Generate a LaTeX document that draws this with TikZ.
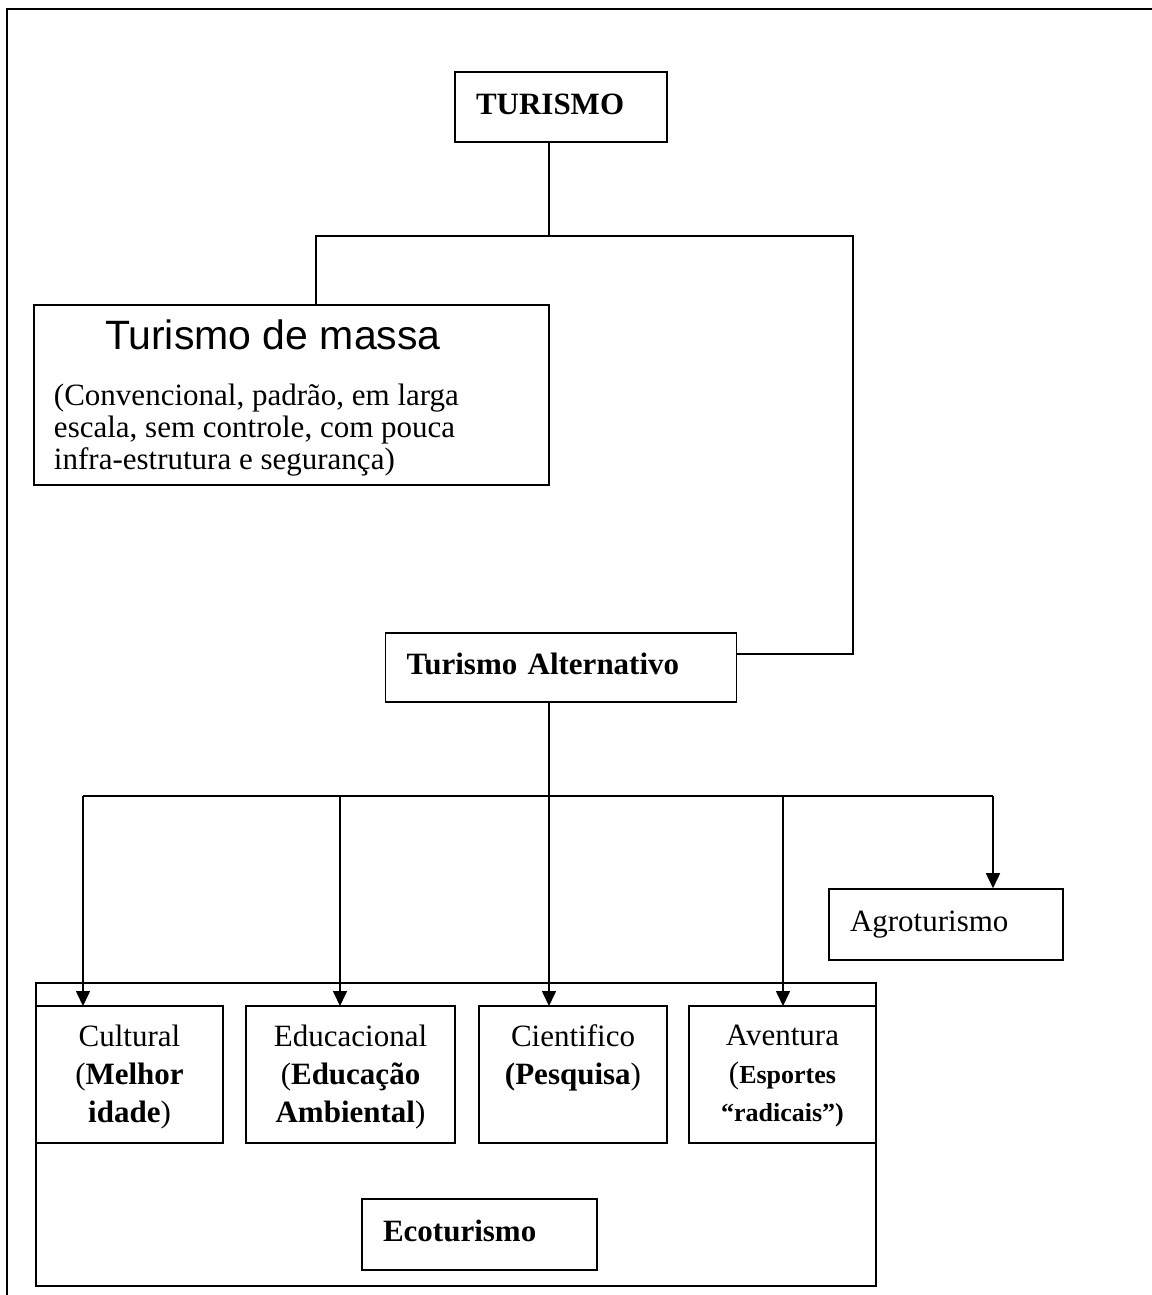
\documentclass[tikz,border=0pt]{standalone}
\usepackage{fontspec}
\setmainfont{Liberation Serif}
\newfontfamily\arialfont{Liberation Sans}
\usepackage{tikz}
\usetikzlibrary{arrows.meta, positioning}

\begin{document}
\begin{tikzpicture}[x=0.5pt, y=-0.5pt, line width=0.8pt,
    font=\fontsize{15.5pt}{19pt}\selectfont,
    box/.style={draw, rectangle, inner xsep=10.5pt, align=left, text height=11pt, text depth=4pt},
    subbox/.style={draw, rectangle, outer sep=0pt, minimum height=68.5pt},
    arr/.style={-{Triangle[length=7.5pt, width=7pt]}}]

    \useasboundingbox (0,0) rectangle (1151,1295);

    % moldura da pagina
    \draw[line width=1.3pt] (7,1300) -- (7,9) -- (1160,9);

    % Nodes for turismo and its two branches
    \node (turismo) [box, text width=85pt, minimum height=35pt] at (561,107) {\textbf{TURISMO}};

    \node (massa) [draw, rectangle, minimum width=257.5pt, minimum height=90pt] at (291.5,395) {};
    \node (massatitle) [anchor=north west, inner sep=0pt, font=\arialfont\fontsize{20.5pt}{24pt}\selectfont] at ([xshift=35.5pt, yshift=-7.5pt]massa.north west) {Turismo de massa};
    \node (massatext) [anchor=north west, inner sep=0pt, align=left, font=\fontsize{15.5pt}{16pt}\selectfont] at ([xshift=10pt, yshift=-39.5pt]massa.north west) {(Convencional, padrão, em larga\\ escala, sem controle, com pouca\\ infra-estrutura e segurança)};

    \node (alt) [box, text width=154.5pt, minimum height=34.5pt, below of=turismo, node distance=280.25pt] {\textbf{Turismo Alternativo}};

    % Nodes for the kinds of turismo alternativo
    \node (agro) [box, text width=96pt, minimum height=35.5pt] at (946,924.5) {Agroturismo};

    \node (ecobox) [draw, rectangle, outer sep=0pt, minimum width=420pt, minimum height=151.5pt] at (456,1134.5) {};
    \node (cultural) [subbox, minimum width=93.5pt, below=11.5pt of ecobox.north west, anchor=north west] {};
    \node (educacional) [subbox, minimum width=104.5pt, right=11.5pt of cultural] {};
    \node (cientifico) [subbox, minimum width=94pt, right=12pt of educacional] {};
    \node (aventura) [subbox, minimum width=93.5pt, right=11pt of cientifico] {};

    \node (culturaltxt) [below=9pt of cultural.north, inner sep=0pt, align=center] {Cultural\\ (\textbf{Melhor}\\ \textbf{idade})};
    \node (educacionaltxt) [below=9pt of educacional.north, inner sep=0pt, align=center] {Educacional\\ (\textbf{Educação}\\ \textbf{Ambiental})};
    \node (cientificotxt) [below=9pt of cientifico.north, inner sep=0pt, align=center] {Cientifico\\ \textbf{(Pesquisa})};
    \node (aventuratxt) [below=9pt of aventura.north, inner sep=0pt, align=center] {Aventura\\ ({\fontsize{13pt}{17pt}\selectfont\textbf{Esportes}}\\ {\fontsize{13pt}{17pt}\selectfont\textbf{“radicais”)}}};

    \node (ecolabel) [box, text width=96.5pt, minimum height=35.5pt] at (479.5,1234.5) {\textbf{Ecoturismo}};

    % connectors from turismo
    \coordinate (fork) at (549,236);
    \coordinate (forkL) at (316,236);
    \coordinate (forkR) at (853,236);
    \coordinate (altR) at (853,654);
    \draw (turismo.south -| fork) -- (fork);
    \draw (forkL |- massa.north) -- (forkL) -- (forkR) -- (altR) -- (altR -| alt.east);

    % Draw arrows from turismo alternativo to each kind
    \coordinate (bus) at (549,796);
    \coordinate (b1) at (83,796);
    \coordinate (b2) at (340,796);
    \coordinate (b4) at (783,796);
    \coordinate (b5) at (993,796);
    \draw (alt.south -| bus) -- (bus);
    \draw (b1) -- (b5);
    \draw[arr] (b1) -- (b1 |- cultural.north);
    \draw[arr] (b2) -- (b2 |- educacional.north);
    \draw[arr] (bus) -- (bus |- cientifico.north);
    \draw[arr] (b4) -- (b4 |- aventura.north);
    \draw[arr] (b5) -- (b5 |- agro.north);

\end{tikzpicture}
\end{document}
